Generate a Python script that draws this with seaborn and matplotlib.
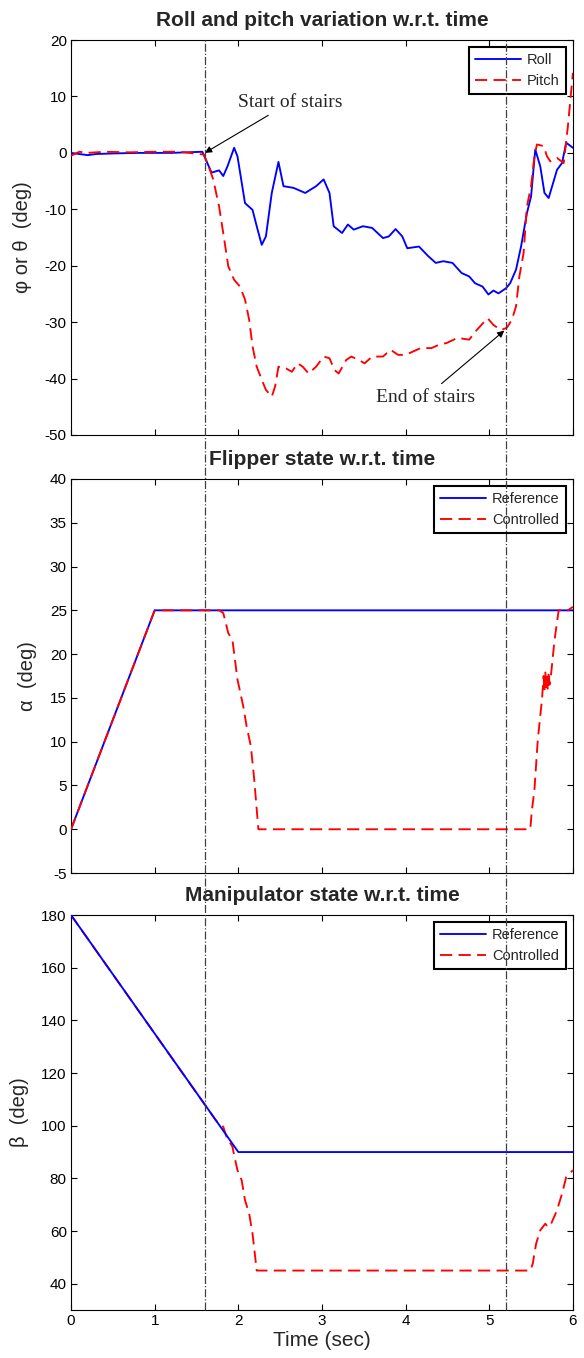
import numpy as np
import pandas as pd
import seaborn as sns
import matplotlib
matplotlib.use("Agg")
import matplotlib.pyplot as plt
from matplotlib.lines import Line2D
import matplotlib.transforms as mtransforms

# ---------------- data ----------------
roll_t = [0.0, 0.1, 0.2, 0.3, 0.5, 0.8, 1.2, 1.57, 1.68, 1.77, 1.82, 1.87, 1.95, 1.99, 2.08, 2.17, 2.22,
          2.28, 2.33, 2.40, 2.48, 2.54, 2.66, 2.80, 2.93, 3.02, 3.09, 3.14, 3.24, 3.31, 3.38,
          3.49, 3.60, 3.73, 3.80, 3.88, 3.96, 4.02, 4.16, 4.27, 4.36, 4.45, 4.56, 4.67, 4.76,
          4.83, 4.92, 4.99, 5.05, 5.11, 5.20, 5.25, 5.32, 5.38, 5.45, 5.50, 5.55, 5.61, 5.66,
          5.71, 5.74, 5.81, 5.87, 5.92, 6.0]
roll_v = [0.0, -0.2, -0.4, -0.2, -0.1, 0.0, 0.0, 0.2, -3.5, -3.1, -4.1, -2.4, 0.9, -0.6, -8.9, -10.1, -13.0,
          -16.3, -14.8, -7.1, -1.6, -5.9, -6.2, -7.1, -5.9, -4.7, -7.1, -13.0, -14.2, -12.7, -13.6,
          -13.0, -13.3, -15.1, -14.8, -13.5, -14.8, -16.9, -16.6, -18.3, -19.5, -19.2, -19.5, -21.3, -21.9,
          -23.1, -23.7, -25.1, -24.4, -24.9, -24.0, -23.1, -20.7, -16.6, -10.7, -7.7, 0.6, -2.4, -7.1,
          -8.0, -6.5, -3.0, -1.8, 1.8, 0.9]

pitch_t = [0.0, 0.1, 0.2, 0.4, 0.7, 1.0, 1.3, 1.59, 1.66, 1.70, 1.77, 1.82, 1.88, 1.95, 2.02, 2.08, 2.13,
           2.17, 2.22, 2.28, 2.33, 2.40, 2.44, 2.48, 2.57, 2.64, 2.71, 2.77, 2.84, 2.93, 3.02,
           3.09, 3.15, 3.20, 3.29, 3.35, 3.44, 3.51, 3.60, 3.73, 3.82, 3.91, 4.00, 4.09, 4.18,
           4.31, 4.40, 4.49, 4.62, 4.76, 4.85, 4.98, 5.05, 5.14, 5.21, 5.27, 5.32, 5.36, 5.41,
           5.45, 5.50, 5.54, 5.57, 5.65, 5.69, 5.73, 5.81, 5.89, 5.94, 6.0]
pitch_v = [-0.5, 0.2, 0.0, 0.2, 0.1, 0.2, 0.2, -0.3, -3.0, -4.7, -9.5, -14.2, -20.1, -22.5, -23.7, -26.0, -29.6,
           -34.3, -37.9, -40.2, -42.0, -43.2, -41.4, -37.9, -38.2, -38.8, -37.3, -37.9, -39.1, -37.9, -36.1,
           -36.4, -38.5, -39.1, -36.7, -36.1, -36.7, -37.3, -36.1, -36.1, -34.9, -35.8, -35.8, -35.2, -34.6,
           -34.6, -34.0, -33.7, -32.8, -33.1, -31.4, -29.3, -30.5, -31.4, -31.0, -29.6, -27.2, -21.9, -17.8,
           -9.5, -5.9, -0.6, 1.5, 1.2, -0.6, -1.5, -0.9, -1.8, 4.7, 14.2]

flip_ref_t = [0.0, 1.0, 6.0]
flip_ref_v = [0.0, 25.0, 25.0]

flip_ctl_t = [0.0, 1.0, 1.77, 1.82, 1.88, 1.93, 1.99, 2.06, 2.10, 2.15, 2.19, 2.24, 5.49, 5.51, 5.54,
              5.58, 5.63, 5.65, 5.66, 5.67, 5.68, 5.69, 5.70, 5.71, 5.72, 5.74, 5.78, 5.83, 5.94, 6.0]
flip_ctl_v = [0.0, 25.0, 25.0, 24.7, 22.4, 21.6, 17.1, 14.0, 11.7, 9.5, 5.7, 0.0, 0.0, 2.2, 4.5,
              10.2, 14.8, 17.5, 15.8, 18.0, 16.0, 17.8, 15.8, 18.0, 16.5, 17.8, 21.6, 25.0, 25.0, 25.4]

man_ref_t = [0.0, 2.0, 6.0]
man_ref_v = [180.0, 90.0, 90.0]

man_ctl_t = [0.0, 1.73, 1.77, 1.82, 1.86, 1.93, 1.95, 1.99, 2.04, 2.08, 2.13, 2.17, 2.22, 5.49, 5.52,
             5.56, 5.61, 5.67, 5.70, 5.74, 5.81, 5.87, 5.92, 6.0]
man_ctl_v = [180.0, 102.1, 100.8, 99.6, 95.7, 92.0, 88.8, 83.1, 79.3, 71.7, 66.6, 59.0, 45.0, 45.0, 47.6,
             55.2, 60.3, 62.8, 61.5, 62.8, 67.9, 74.2, 80.5, 83.1]

stairs_start = 1.6
stairs_end = 5.2

titles = ["Roll and pitch variation w.r.t. time", "Flipper state w.r.t. time", "Manipulator state w.r.t. time"]
ylabels = ["φ or θ  (deg)", "α  (deg)", "β  (deg)"]
xticks = [0, 1, 2, 3, 4, 5, 6]

# ---------------- style ----------------
sns.set_theme(style="ticks")
plt.rcParams["font.family"] = ["Liberation Sans", "DejaVu Sans"]
plt.rcParams["axes.unicode_minus"] = False
plt.rcParams["axes.linewidth"] = 0.8
plt.rcParams["xtick.direction"] = "in"
plt.rcParams["ytick.direction"] = "in"

fig = plt.figure(figsize=(5.84, 13.58), dpi=100)
left, width = 0.1216, 0.981 - 0.1216
ax1 = fig.add_axes([left, 0.6797, width, 0.9705 - 0.6797])
ax2 = fig.add_axes([left, 0.3571, width, 0.6473 - 0.3571])
ax3 = fig.add_axes([left, 0.0353, width, 0.3262 - 0.0353])

BLUE = "#0000ff"
RED = "#ff0000"
DASH = (0, (6.5, 3.4))
LW = 1.35

sns.lineplot(x=roll_t, y=roll_v, ax=ax1, color=BLUE, lw=LW, label="Roll", zorder=3)
sns.lineplot(x=pitch_t, y=pitch_v, ax=ax1, color=RED, lw=LW, linestyle=DASH, label="Pitch", zorder=4)

sns.lineplot(x=flip_ref_t, y=flip_ref_v, ax=ax2, color=BLUE, lw=LW, label="Reference", zorder=3)
sns.lineplot(x=flip_ctl_t, y=flip_ctl_v, ax=ax2, color=RED, lw=LW, linestyle=DASH, label="Controlled", zorder=4)

sns.lineplot(x=man_ref_t, y=man_ref_v, ax=ax3, color=BLUE, lw=LW, label="Reference", zorder=4)
sns.lineplot(x=man_ctl_t, y=man_ctl_v, ax=ax3, color=RED, lw=LW, linestyle=DASH, label="Controlled", zorder=3)

ylims = [(-50, 20), (-5, 40), (30, 180)]
yticks = [np.arange(-50, 21, 10), np.arange(-5, 41, 5), np.arange(40, 181, 20)]

for i, ax in enumerate([ax1, ax2, ax3]):
    ax.set_xlim(0, 6)
    ax.set_ylim(*ylims[i])
    ax.set_xticks(xticks)
    ax.set_yticks(yticks[i])
    ax.tick_params(axis="both", which="both", direction="in", length=4, width=0.8,
                   top=True, right=True, labelsize=11, colors="black", pad=3)
    for s in ax.spines.values():
        s.set_visible(True)
        s.set_color("black")
    ax.set_title(titles[i], fontsize=15, fontweight="bold", pad=10)
    ax.set_ylabel(ylabels[i], fontsize=14.5, labelpad=9)
    if i < 2:
        ax.set_xticklabels([])
        ax.set_xlabel("")
    leg = ax.legend(loc="upper right", fontsize=10.5, frameon=True, fancybox=False,
                    edgecolor="black", handlelength=3.2, borderaxespad=0.5,
                    borderpad=0.4, labelspacing=0.5, handletextpad=0.4, markerfirst=True)
    leg.get_frame().set_linewidth(1.5)
    leg.get_frame().set_alpha(1)

ax3.set_xlabel("Time (sec)", fontsize=15, labelpad=2)

# vertical dash-dot lines across all subplots
trans = mtransforms.blended_transform_factory(ax3.transData, fig.transFigure)
for xv in [stairs_start, stairs_end]:
    fig.add_artist(Line2D([xv, xv], [0.0353, 0.9705], transform=trans, color="0.25",
                          lw=0.9, linestyle="-.", zorder=1))

# annotations
ax1.annotate("Start of stairs", xy=(stairs_start, 0), xytext=(2.0, 9.0),
             fontsize=14, family=["Liberation Serif", "DejaVu Serif"], ha="left", va="center",
             arrowprops=dict(arrowstyle="-|>", color="black", lw=0.8, mutation_scale=10, shrinkA=2, shrinkB=0))
ax1.annotate("End of stairs", xy=(5.18, -31.5), xytext=(4.83, -43.3),
             fontsize=14, family=["Liberation Serif", "DejaVu Serif"], ha="right", va="center",
             arrowprops=dict(arrowstyle="-|>", color="black", lw=0.8, mutation_scale=10, shrinkA=2, shrinkB=0))

fig.savefig("out.png", dpi=100, facecolor="white")
